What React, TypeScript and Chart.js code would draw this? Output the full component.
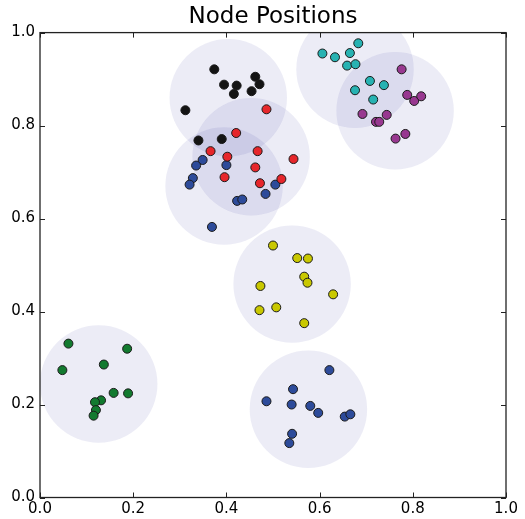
import React, { useEffect, useRef } from "react";
import { Chart, registerables } from "chart.js";

Chart.register(...registerables);

const TITLE = "Node Positions";
const TICK_VALUES = [0, 0.2, 0.4, 0.6, 0.8, 1.0];
const CLUSTER_RADIUS = 0.126;

const clusterNames = ["black", "red", "blueUpper", "cyan", "purple", "yellow", "green", "blueLower"];
const clusterColors = ["#141414", "#e6262b", "#2d4b9a", "#27b2b2", "#983890", "#c9c800", "#127a2f", "#2d4b9a"];

const blackX = [0.374, 0.395, 0.422, 0.416, 0.462, 0.471, 0.454, 0.312, 0.340, 0.390];
const blackY = [0.921, 0.888, 0.886, 0.868, 0.905, 0.889, 0.874, 0.833, 0.768, 0.771];

const redX = [0.486, 0.421, 0.366, 0.402, 0.467, 0.544, 0.462, 0.396, 0.472, 0.518];
const redY = [0.835, 0.784, 0.745, 0.733, 0.745, 0.728, 0.710, 0.689, 0.676, 0.685];

const blueUpperX = [0.349, 0.335, 0.400, 0.328, 0.321, 0.505, 0.484, 0.423, 0.434, 0.369];
const blueUpperY = [0.726, 0.714, 0.715, 0.687, 0.673, 0.673, 0.653, 0.638, 0.641, 0.582];

const cyanX = [0.683, 0.606, 0.633, 0.665, 0.659, 0.677, 0.708, 0.738, 0.676, 0.715];
const cyanY = [0.977, 0.955, 0.947, 0.956, 0.929, 0.932, 0.896, 0.887, 0.876, 0.856];

const purpleX = [0.776, 0.788, 0.803, 0.818, 0.692, 0.744, 0.721, 0.728, 0.784, 0.763];
const purpleY = [0.921, 0.866, 0.853, 0.863, 0.825, 0.823, 0.808, 0.808, 0.782, 0.772];

const yellowX = [0.500, 0.552, 0.575, 0.567, 0.574, 0.473, 0.629, 0.507, 0.471, 0.567];
const yellowY = [0.542, 0.515, 0.514, 0.475, 0.462, 0.455, 0.437, 0.409, 0.403, 0.375];

const greenX = [0.061, 0.187, 0.048, 0.137, 0.158, 0.189, 0.131, 0.118, 0.120, 0.115];
const greenY = [0.331, 0.320, 0.274, 0.286, 0.225, 0.224, 0.209, 0.205, 0.188, 0.176];

const blueLowerX = [0.621, 0.543, 0.486, 0.540, 0.580, 0.597, 0.654, 0.666, 0.541, 0.535];
const blueLowerY = [0.274, 0.233, 0.207, 0.200, 0.197, 0.182, 0.174, 0.179, 0.137, 0.117];

const clusterX = [blackX, redX, blueUpperX, cyanX, purpleX, yellowX, greenX, blueLowerX];
const clusterY = [blackY, redY, blueUpperY, cyanY, purpleY, yellowY, greenY, blueLowerY];

// cluster centres
const centerX = [0.404, 0.453, 0.395, 0.676, 0.762, 0.541, 0.126, 0.576];
const centerY = [0.860, 0.733, 0.670, 0.921, 0.832, 0.459, 0.244, 0.190];

const FONT = "'DejaVu Sans', sans-serif";

const frameAndTicks = {
  id: "frameAndTicks",
  afterDraw(chart: any) {
    const { ctx, chartArea } = chart;
    const xs = chart.scales.x;
    const ys = chart.scales.y;
    const L = 5;
    ctx.save();
    ctx.strokeStyle = "#222";
    ctx.lineWidth = 1;
    ctx.beginPath();
    for (const v of TICK_VALUES) {
      const px = Math.round(xs.getPixelForValue(v)) + 0.5;
      ctx.moveTo(px, chartArea.bottom);
      ctx.lineTo(px, chartArea.bottom - L);
      ctx.moveTo(px, chartArea.top);
      ctx.lineTo(px, chartArea.top + L);
      const py = Math.round(ys.getPixelForValue(v)) + 0.5;
      ctx.moveTo(chartArea.left, py);
      ctx.lineTo(chartArea.left + L, py);
      ctx.moveTo(chartArea.right, py);
      ctx.lineTo(chartArea.right - L, py);
    }
    ctx.stroke();
    ctx.lineWidth = 1.3;
    ctx.strokeRect(chartArea.left, chartArea.top, chartArea.right - chartArea.left, chartArea.bottom - chartArea.top);
    ctx.restore();
  },
};

export default function App() {
  const ref = useRef<HTMLCanvasElement | null>(null);

  useEffect(() => {
    if (!ref.current) return;
    const circleData = centerX.map((x, i) => ({ x, y: centerY[i] }));
    const pointSets = clusterNames.map((name, i) => ({
      type: "scatter" as const,
      label: name,
      data: clusterX[i].map((x, j) => ({ x, y: clusterY[i][j] })),
      backgroundColor: clusterColors[i],
      borderColor: "#1a1a1a",
      borderWidth: 1,
      pointRadius: 4.5,
      order: 0,
      clip: 0,
    }));
    const chart = new Chart(ref.current, {
      type: "scatter",
      data: {
        datasets: [
          ...pointSets,
          {
            type: "scatter",
            label: "clusters",
            data: circleData,
            backgroundColor: "rgba(40,40,150,0.09)",
            borderWidth: 0,
            pointRadius: (c: any) => {
              const s = c.chart.scales.x;
              return s.getPixelForValue(CLUSTER_RADIUS) - s.getPixelForValue(0);
            },
            order: 5,
            clip: 0,
          } as any,
        ],
      },
      options: {
        animation: false,
        responsive: false,
        events: [],
        layout: { padding: { left: 0, right: 19, top: 0, bottom: 0 } },
        plugins: {
          legend: { display: false },
          tooltip: { enabled: false },
          title: {
            display: true,
            text: TITLE,
            fullSize: false,
            color: "#000",
            font: { family: FONT, size: 23, weight: "normal" },
            padding: { top: 3, bottom: 2 },
          },
        },
        scales: {
          x: {
            type: "linear",
            min: 0,
            max: 1,
            afterFit: (s: any) => {
              s.height = 21.5;
            },
            grid: { display: false, drawTicks: false },
            border: { display: false },
            ticks: {
              stepSize: 0.2,
              padding: 3,
              color: "#000",
              font: { family: FONT, size: 15 },
              maxRotation: 0,
              callback: (v: any) => Number(v).toFixed(1),
            },
          },
          y: {
            type: "linear",
            min: 0,
            max: 1,
            afterFit: (s: any) => {
              s.width = 40;
            },
            grid: { display: false, drawTicks: false },
            border: { display: false },
            ticks: {
              stepSize: 0.2,
              padding: 5,
              color: "#000",
              font: { family: FONT, size: 15 },
              callback: (v: any) => Number(v).toFixed(1),
            },
          },
        },
      },
      plugins: [frameAndTicks],
    });
    return () => chart.destroy();
  }, []);

  return (
    <div style={{ position: "absolute", left: 0, top: 0, width: 525, height: 519, background: "#fff" }}>
      <canvas ref={ref} width={525} height={519} style={{ width: 525, height: 519 }} />
    </div>
  );
}
